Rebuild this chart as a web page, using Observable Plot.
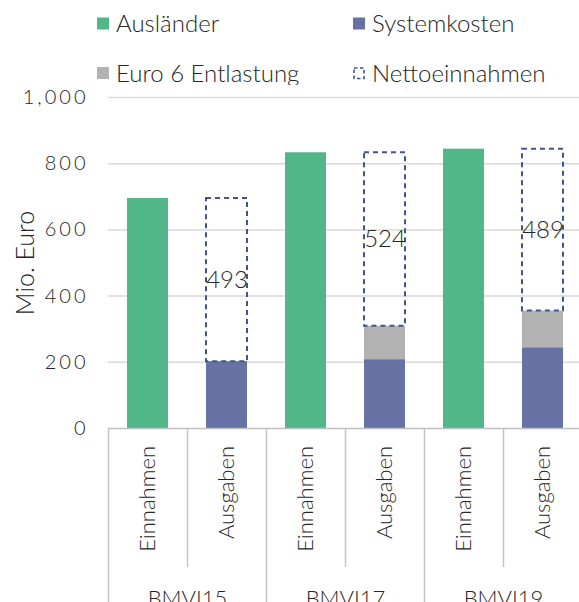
<!DOCTYPE html>
<html>
<head>
<meta charset="utf-8">
<script src="https://cdn.jsdelivr.net/npm/d3@7"></script>
<script src="https://cdn.jsdelivr.net/npm/@observablehq/plot@0.6"></script>
<style>
  html, body { margin: 0; padding: 0; background: #fff; }
  #chart svg { display: block; }
  #chart text { font-family: Lato, "Open Sans", sans-serif; font-weight: 300; }
  g[aria-label^="y-axis"] text { letter-spacing: 3px; }
  g[aria-label="category"] text { letter-spacing: 1px; }
  g[aria-label="group"] text { letter-spacing: 1px; }
</style>
</head>
<body>
<div id="chart"></div>
<script>
// Maut-Bilanz je Gutachten: Einnahmen von Ausländern vs. Ausgaben (Mio. Euro)
const groups = ["BMVI15", "BMVI17", "BMVI19"];
const types = ["Einnahmen", "Ausgaben"];
const auslaender = [695, 833, 844];
const systemkosten = [202, 208, 244];
const euro6 = [0, 101, 111];
const netto = [493, 524, 489];
const yTicks = [0, 200, 400, 600, 800, 1000];

const seriesNames = ["Ausländer", "Systemkosten", "Euro 6 Entlastung", "Nettoeinnahmen"];
const seriesColors = ["#52b788", "#6672a4", "#b2b2b2", "#3e5592"];

// Each group owns two slots on a linear axis: Einnahmen at 2g, Ausgaben at 2g+1
const slots = groups.flatMap((g, gi) => types.map((t, ti) => ({group: g, type: t, slot: gi * 2 + ti})));

const segments = groups.flatMap((g, gi) => {
  const ein = gi * 2, aus = gi * 2 + 1;
  const costs = d3.cumsum([systemkosten[gi], euro6[gi]]);
  return [
    {slot: ein, series: "Ausländer", y1: 0, y2: auslaender[gi]},
    {slot: aus, series: "Systemkosten", y1: 0, y2: costs[0]},
    {slot: aus, series: "Euro 6 Entlastung", y1: costs[0], y2: costs[1]}
  ].filter(d => d.y2 > d.y1);
});

const nettoRows = groups.map((g, gi) => {
  const base = systemkosten[gi] + euro6[gi];
  return {slot: gi * 2 + 1, y1: base, y2: base + netto[gi], value: netto[gi]};
});

const dividers = d3.range(slots.length + 1);
const subDividers = dividers.filter(i => i % 2 === 1);
const groupDividers = dividers.filter(i => i % 2 === 0);

// Legend (two rows, two columns) drawn as its own SVG above the plot
const legendItems = [
  {name: seriesNames[0], col: 0, row: 0},
  {name: seriesNames[1], col: 1, row: 0},
  {name: seriesNames[2], col: 0, row: 1},
  {name: seriesNames[3], col: 1, row: 1}
];
const legendCols = [97, 353];
const legendRows = [32, 81.5];
const legend = d3.create("svg").attr("width", 579).attr("height", 85);
legendItems.forEach(item => {
  const x = legendCols[item.col], y = legendRows[item.row];
  const color = seriesColors[seriesNames.indexOf(item.name)];
  const g = legend.append("g");
  if (item.name === "Nettoeinnahmen") {
    g.append("rect").attr("x", x + 1).attr("y", y - 13.5).attr("width", 10).attr("height", 10.5)
      .attr("fill", "none").attr("stroke", color).attr("stroke-width", 1.6).attr("stroke-dasharray", "3.5,2.5");
  } else {
    g.append("rect").attr("x", x).attr("y", y - 14.5).attr("width", 12).attr("height", 12).attr("fill", color);
  }
  g.append("text").attr("x", x + 19).attr("y", y).attr("font-size", 24).attr("fill", "#262626").text(item.name);
});

const chart = Plot.plot({
  width: 579,
  height: 517,
  marginTop: 12,
  marginBottom: 174,
  marginLeft: 108,
  marginRight: 0,
  style: {fontFamily: "Lato", fontSize: "20px", color: "#262626", background: "white"},
  x: {domain: [0, slots.length], range: [108, 582], axis: null},
  y: {domain: [0, 1000], ticks: yTicks, tickSize: 0, tickPadding: 20, tickFormat: d3.format(",d"), label: null},
  color: {domain: seriesNames, range: seriesColors},
  marks: [
    Plot.ruleY(yTicks.filter(d => d > 0), {stroke: "#d9d9d9", strokeWidth: 1.5}),
    Plot.rectY(segments, {x1: "slot", x2: d => d.slot + 1, y1: "y1", y2: "y2", fill: "series", insetLeft: 19, insetRight: 19}),
    Plot.rectY(nettoRows, {x1: "slot", x2: d => d.slot + 1, y1: "y1", y2: "y2", fill: "none",
      stroke: seriesColors[3], strokeWidth: 2, strokeDasharray: "5,4", insetLeft: 19, insetRight: 19}),
    Plot.text(nettoRows, {x: d => d.slot + 0.5, y: d => (d.y1 + d.y2) / 2, text: d => String(d.value),
      fontSize: 24, fill: "#262626"}),
    Plot.ruleY([0], {stroke: "#bfbfbf", strokeWidth: 1.5}),
    Plot.ruleX(subDividers, {x: d => d, y1: 0, y2: 0, insetBottom: -139, stroke: "#c4c4c4", strokeWidth: 1.5}),
    Plot.ruleX(groupDividers, {x: d => d, y1: 0, y2: 0, insetBottom: -190, stroke: "#c4c4c4", strokeWidth: 1.5}),
    Plot.text(slots, {x: d => d.slot + 0.5, y: () => 0, text: "type", rotate: -90, textAnchor: "end",
      dy: 17.5, fontSize: 22, fill: "#262626", ariaLabel: "category"}),
    Plot.text(groups, {x: (d, i) => i * 2 + 1, y: () => 0, text: d => d, lineAnchor: "top",
      dy: 162, fontSize: 22, fill: "#262626", ariaLabel: "group"}),
    Plot.text(["Mio. Euro"], {frameAnchor: "left", text: d => d, rotate: -90, textAnchor: "middle", dx: -83,
      fontSize: 25, fill: "#262626"})
  ]
});

const root = document.getElementById("chart");
root.appendChild(legend.node());
root.appendChild(chart);
</script>
</body>
</html>
